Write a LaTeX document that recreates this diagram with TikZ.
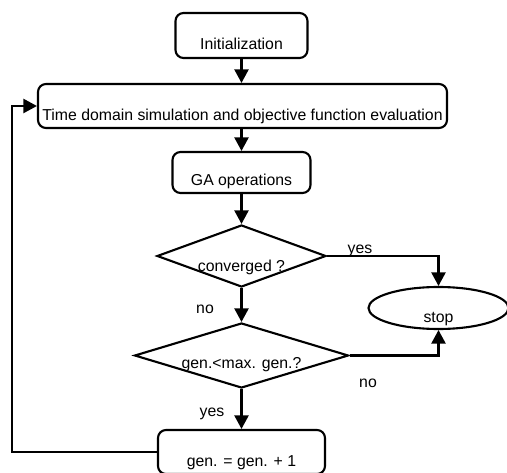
\documentclass[tikz,border=0pt]{standalone}
\usepackage{fontspec}
\setmainfont{Liberation Sans}
\usetikzlibrary{shapes.geometric,arrows.meta}

% text sits low in the boxes of the original chart
\newcommand{\lowered}[2][0.29cm]{\raisebox{-#1}[0pt][0pt]{#2}}

\tikzset{
  chart/.style={line width=1.2pt},
  stepbox/.style={draw, chart, rounded corners=0.16cm, inner sep=0pt},
  test/.style={draw, chart, diamond, inner sep=0pt},
  term/.style={draw, chart, ellipse, inner sep=0pt},
  arr/.style={chart, -{Triangle[width=0.28cm,length=0.27cm]}},
}

\begin{document}
\begin{tikzpicture}[font=\small]
    \clip (0,0) rectangle (10.14,9.44);

    \node[stepbox, minimum width=2.64cm, minimum height=0.9cm] (init) at (4.83,8.73) {\lowered{Initialization}};
    \node[stepbox, minimum width=8.18cm, minimum height=0.88cm] (sim) at (4.85,7.32) {\lowered{Time domain simulation and objective function evaluation}};
    \node[stepbox, minimum width=2.76cm, minimum height=0.82cm] (ga) at (4.83,5.99) {\lowered[0.27cm]{GA operations}};
    \node[test, aspect=2.73, minimum width=3.38cm, minimum height=1.24cm] (conv) at (4.83,4.32) {\lowered[0.3cm]{converged ?}};
    \node[test, aspect=3.29, minimum width=4.28cm, minimum height=1.3cm] (maxgen) at (4.83,2.33) {\lowered[0.26cm]{gen.<max. gen.?}};
    \node[stepbox, minimum width=3.34cm, minimum height=0.88cm] (incr) at (4.83,0.4) {\lowered[0.28cm]{gen. = gen. + 1}};
    \node[term, minimum width=2.8cm, minimum height=0.84cm] (stop) at (8.77,3.28) {\lowered[0.28cm]{stop}};
    \coordinate (back) at (0.24,0.4);

    \draw[arr] (init.south) -- (init.south |- sim.north);
    \draw[arr] (ga.north |- sim.south) -- (ga.north);
    \draw[arr] (ga.south) -- (conv.north);
    \draw[arr] (conv.south) -- (maxgen.north);
    \draw[arr] (maxgen.south) -- (incr.north);
    \draw[arr] (conv.east) -| (stop.north);
    \draw[arr] (maxgen.east) -| (stop.south);
    \draw[arr] (incr.west) -| (back) |- (sim.west);

    \node (yes1) at (7.2,4.43) {yes};
    \node (no1) at (4.1,3.26) {no};
    \node (no2) at (7.36,1.78) {no};
    \node (yes2) at (4.24,1.16) {yes};
  \end{tikzpicture}
\end{document}
